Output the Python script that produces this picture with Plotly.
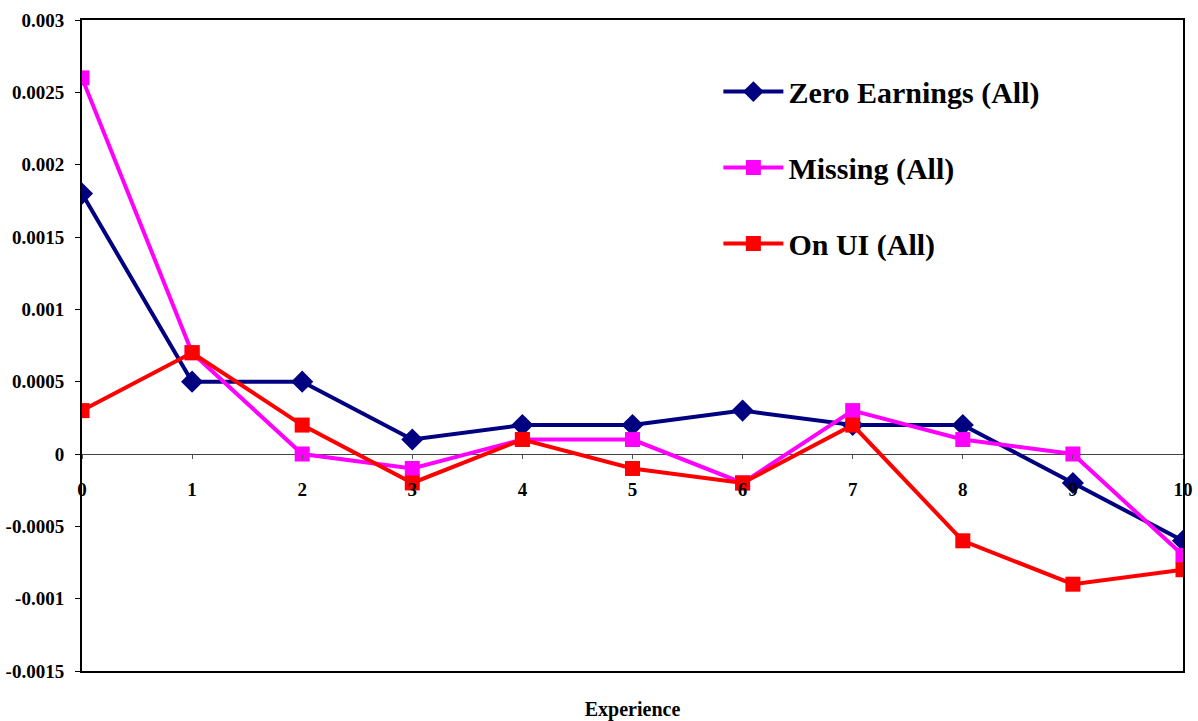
import plotly.graph_objects as go

experience = [0, 1, 2, 3, 4, 5, 6, 7, 8, 9, 10]
zero_earnings = [0.0018, 0.0005, 0.0005, 0.0001, 0.0002, 0.0002, 0.0003, 0.0002, 0.0002, -0.0002, -0.0006]
missing = [0.0026, 0.0007, 0.0, -0.0001, 0.0001, 0.0001, -0.0002, 0.0003, 0.0001, 0.0, -0.0007]
on_ui = [0.0003, 0.0007, 0.0002, -0.0002, 0.0001, -0.0001, -0.0002, 0.0002, -0.0006, -0.0009, -0.0008]

y_ticks = [0.003, 0.0025, 0.002, 0.0015, 0.001, 0.0005, 0, -0.0005, -0.001, -0.0015]
y_labels = ["0.003", "0.0025", "0.002", "0.0015", "0.001", "0.0005", "0", "-0.0005", "-0.001", "-0.0015"]

serif = "Liberation Serif"
y_min, y_max = -0.0015, 0.003

fig = go.Figure()
series = [
    ("Zero Earnings (All)", zero_earnings, "#000080", "diamond", 17),
    ("Missing (All)", missing, "#FF00FF", "square", 15),
    ("On UI (All)", on_ui, "#FF0000", "square", 15),
]
for i, (name, vals, color, sym, size) in enumerate(series):
    fig.add_trace(go.Scatter(
        x=experience, y=vals, name=name, mode="lines+markers",
        line=dict(color=color, width=4),
        marker=dict(symbol=sym, size=size, color=color),
        legendgroup=f"g{i}",
    ))

# category labels sit along the zero line
zero_pos = (0 - y_min) / (y_max - y_min)

fig.update_layout(
    width=1198, height=721,
    margin=dict(l=82, r=15, t=20, b=50),
    paper_bgcolor="white", plot_bgcolor="white",
    showlegend=True,
    legend=dict(
        x=0.578, y=0.93, xanchor="left", yanchor="top",
        font=dict(family=serif, size=30, color="black", weight="bold"),
        bgcolor="rgba(0,0,0,0)", tracegroupgap=34,
        itemwidth=60,
    ),
    xaxis=dict(
        range=[0, 10], showticklabels=False, ticks="", automargin=False,
        showgrid=False, zeroline=False,
        showline=True, linecolor="black", linewidth=2, mirror=True,
        title=dict(text="Experience", font=dict(family=serif, size=20, color="black", weight="bold"), standoff=30),
    ),
    xaxis2=dict(
        range=[0, 10], overlaying="x", anchor="free", position=zero_pos,
        side="bottom", tickmode="array", tickvals=experience,
        ticktext=[str(v) for v in experience], automargin=False,
        ticks="outside", ticklen=4, tickcolor="#555", tickwidth=1,
        ticklabelstandoff=14,
        showgrid=False, zeroline=False, showline=False,
        tickfont=dict(family=serif, size=19, color="black", weight="bold"),
    ),
    yaxis=dict(
        range=[y_min, y_max], tickmode="array", tickvals=y_ticks, ticktext=y_labels,
        ticks="outside", ticklen=5, tickcolor="black", automargin=False,
        ticklabelstandoff=7,
        showgrid=False, zeroline=True, zerolinecolor="#444", zerolinewidth=1,
        showline=True, linecolor="black", linewidth=2, mirror=True,
        tickfont=dict(family=serif, size=19, color="black", weight="bold"),
    ),
)
# an invisible trace keeps the zero-line category axis rendered
fig.add_trace(go.Scatter(x=[0], y=[0], xaxis="x2", mode="markers",
                         marker=dict(opacity=0), showlegend=False, hoverinfo="skip"))

fig.write_html("out.html")
